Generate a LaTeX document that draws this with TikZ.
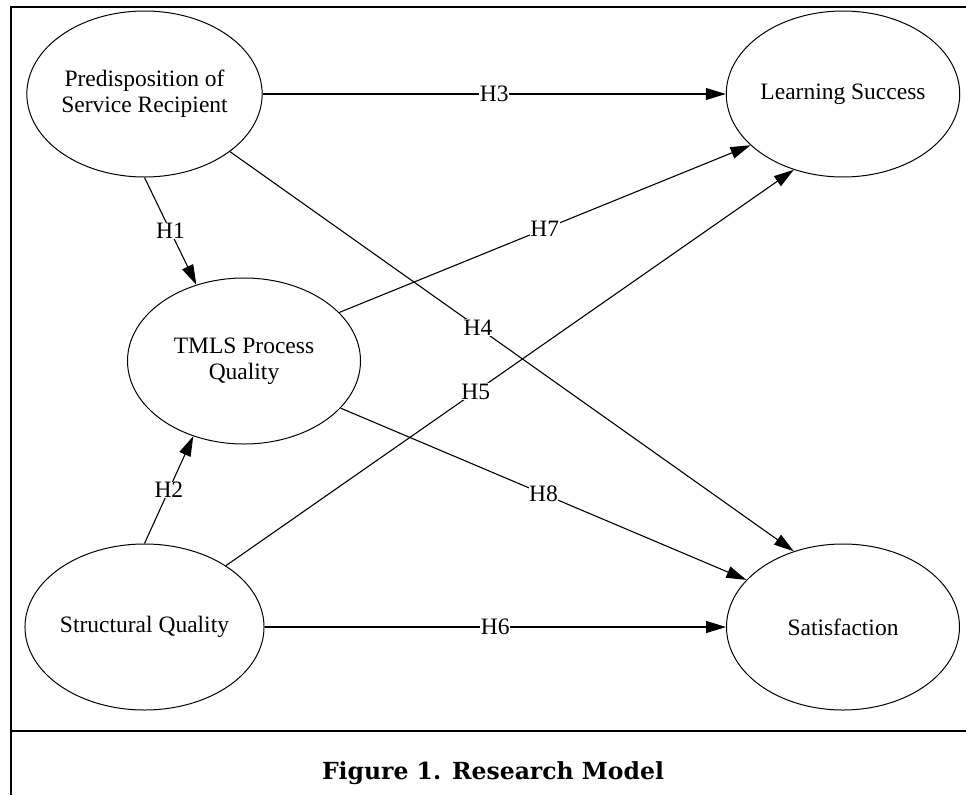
\documentclass[tikz,border=0pt]{standalone}
\usepackage{fontspec}
\setmainfont{Liberation Serif}
\newfontfamily\captionfont{DejaVu Serif}
\usetikzlibrary{shapes.geometric,arrows.meta}

\begin{document}
\begin{tikzpicture}
  [x=1pt, y=-1pt,
   every node/.style={font=\fontsize{23.5}{26}\selectfont},
   construct/.style={draw, ellipse, line width=1pt, minimum width=233pt, minimum height=166pt, inner sep=0pt, align=center},
   link/.style={draw, line width=1.1pt, -{Triangle[length=20pt,width=12pt]}},
   hyp/.style={fill=white, inner sep=0.5pt},
   rule/.style={line width=2.5pt}]

  \useasboundingbox (0,0) rectangle (966,795);
  \draw[rule] (966,7) -- (11,7) -- (11,795);
  \draw[rule] (11,731) -- (966,731);

  \node[construct] (pred)   at (144.5,94)  {Predisposition of\\Service Recipient};
  \node[construct] (tmls)   at (244,361)   {TMLS Process\\Quality};
  \node[construct] (struct) at (144.5,627) {Structural Quality};
  \node[construct] (learn)  at (843,94)    {Learning Success};
  \node[construct] (satis)  at (843,627)   {Satisfaction};

  \draw[link] (pred.south)  -- node[hyp] {H1} (tmls.122);
  \draw[link] (struct.north) -- node[hyp] {H2} (tmls.236);
  \draw[link] (pred.east)   -- node[hyp] {H3} (learn.west);
  \draw[link] (pred.-34)    -- node[hyp, pos=0.44] {H4} (satis.123);
  \draw[link] (struct.37)   -- node[hyp, pos=0.44] {H5} (learn.237);
  \draw[link] (struct.east) -- node[hyp] {H6} (satis.west);
  \draw[link] (tmls.27)     -- node[hyp] {H7} (learn.209);
  \draw[link] (tmls.-26)    -- node[hyp] {H8} (satis.154);

  \node[font=\captionfont\bfseries\fontsize{23.5}{28}\selectfont, anchor=base] (caption) at (493,779) {Figure 1. Research Model};
\end{tikzpicture}
\end{document}
